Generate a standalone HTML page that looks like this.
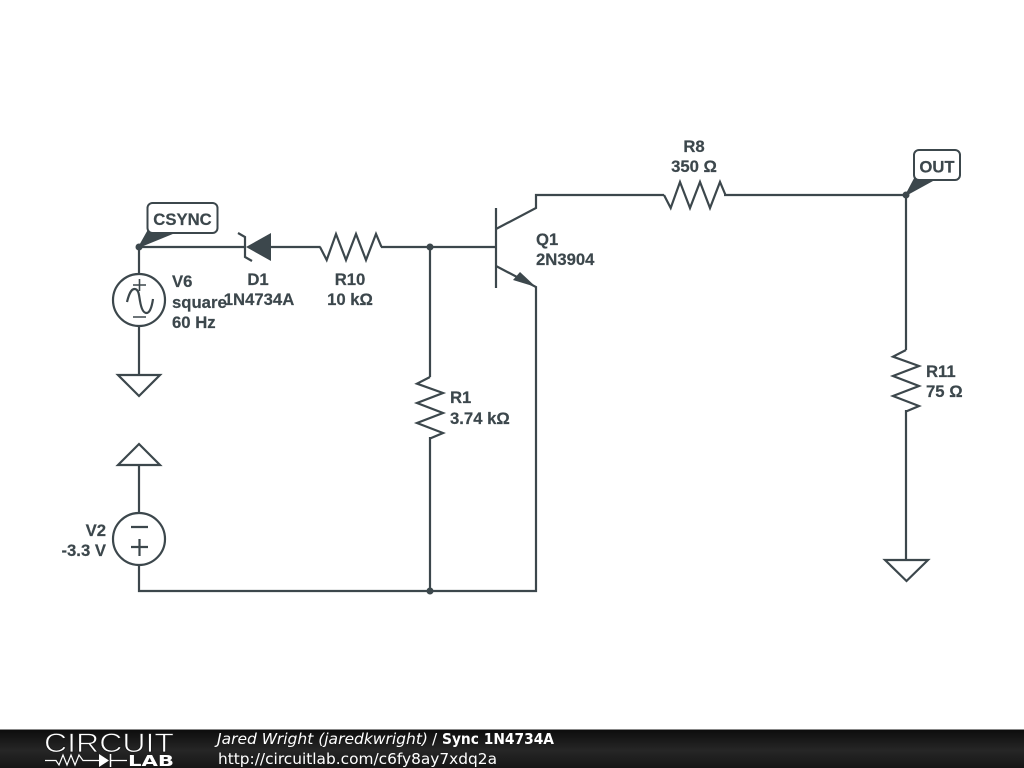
<!DOCTYPE html>
<html><head><meta charset="utf-8"><style>
html,body{margin:0;padding:0;background:#fff;width:1024px;height:768px;overflow:hidden}
svg{display:block}
.w{fill:none;stroke:#3c474c;stroke-width:2.2;stroke-linejoin:miter}
.l{font:bold 16.7px "Liberation Sans",sans-serif;fill:#3c474c;stroke:#3c474c;stroke-width:.2}
.f{font:15.2px "DejaVu Sans",sans-serif;fill:#fff}
</style></head><body>
<svg width="1024" height="768" viewBox="0 0 1024 768" xmlns="http://www.w3.org/2000/svg">
<defs>
<linearGradient id="g" x1="0" y1="0" x2="0" y2="1"><stop offset="0" stop-color="#0c0c0c"/><stop offset="0.55" stop-color="#262626"/><stop offset="1" stop-color="#161616"/></linearGradient>
</defs>
<rect width="1024" height="768" fill="#fff"/>
<!-- wires -->
<path class="w" d="M139 247H246M271 247H320.500M381 247H496M139 247V274M139 326V375M139 465V513M139 565V591H536V287L496 266M496 229L536 208V195H664M724 195H906V350M906 410V560M430 247V377M430 437V591"/>
<!-- resistors -->
<path class="w" d="M320 247L326.700 260L336 234L346 260L356 234L366 260L376 234L381.500 247"/>
<path class="w" d="M664 195L670.700 208L680 182L690 208L700 182L710 208L720 182L725.500 195"/>
<path class="w" d="M430 377L417 383.700L443 393L417 403L443 413L417 423L443 433L430 438.500"/>
<path class="w" d="M906 350L893 356.700L919 366L893 376L919 386L893 396L919 406L906 411.500"/>
<!-- sources -->
<circle class="w" cx="139" cy="300" r="26"/>
<path class="w" style="stroke-width:1.6" d="M133 285H146M139.500 279V291M133 317H146"/>
<path class="w" d="M127 302C129 294 131 289 134.500 289C139 289 139 296 140 301C141 307 143 313 146.500 313C150 313 152 306 153 299"/>
<circle class="w" cx="139" cy="539" r="26"/>
<path class="w" d="M131 527H148M131 547H148M139.500 539V556"/>
<!-- grounds -->
<path class="w" d="M118 375H160L139 396Z"/>
<path class="w" d="M118 465H160L139 444Z"/>
<path class="w" d="M885 560H928L906.500 581Z"/>
<!-- diode -->
<path d="M246 247L271 233V261Z" fill="#3c474c"/>
<path class="w" d="M238 233L245 237V257L252 261"/>
<!-- transistor -->
<path class="w" d="M496 208V288"/>
<path d="M536 287L513 280L520 272Z" fill="#3c474c"/>
<!-- dots -->
<circle cx="139" cy="247" r="3.500" fill="#3c474c"/>
<circle cx="430" cy="247" r="3.500" fill="#3c474c"/>
<circle cx="430" cy="591" r="3.500" fill="#3c474c"/>
<circle cx="906" cy="195" r="3.500" fill="#3c474c"/>
<!-- tags -->
<path d="M139 247L148 231H178Z" fill="#3c474c" stroke="#3c474c" stroke-width="1.500"/>
<rect x="147.500" y="203" width="70" height="30" rx="5" fill="#fff" stroke="#3c474c" stroke-width="2"/>
<text class="l" x="182.500" y="225" text-anchor="middle">CSYNC</text>
<path d="M906 195L915 178H937Z" fill="#3c474c" stroke="#3c474c" stroke-width="1.500"/>
<rect x="914" y="150" width="46" height="30" rx="5" fill="#fff" stroke="#3c474c" stroke-width="2"/>
<text class="l" x="937" y="172.500" text-anchor="middle">OUT</text>
<!-- labels -->
<text class="l" x="172" y="287">V6</text>
<text class="l" x="172" y="308">square</text>
<text class="l" x="172" y="328">60 Hz</text>
<text class="l" x="258" y="285" text-anchor="middle">D1</text>
<text class="l" x="259" y="305" text-anchor="middle">1N4734A</text>
<text class="l" x="350" y="285" text-anchor="middle">R10</text>
<text class="l" x="350" y="305" text-anchor="middle">10 kΩ</text>
<text class="l" x="694" y="152" text-anchor="middle">R8</text>
<text class="l" x="694" y="172" text-anchor="middle">350 Ω</text>
<text class="l" x="536" y="245">Q1</text>
<text class="l" x="536" y="265">2N3904</text>
<text class="l" x="450" y="403">R1</text>
<text class="l" x="450" y="424">3.74 kΩ</text>
<text class="l" x="926" y="377">R11</text>
<text class="l" x="926" y="397">75 Ω</text>
<text class="l" x="106" y="536" text-anchor="end">V2</text>
<text class="l" x="106" y="556" text-anchor="end">-3.3 V</text>
<!-- footer -->
<rect x="0" y="729" width="1024" height="39" fill="url(#g)"/>
<rect x="0" y="729" width="1024" height="1" fill="#888"/>
<text x="44" y="752" font-family="Liberation Sans,sans-serif" font-size="26.500" fill="#fff" stroke="#1a1a1a" stroke-width="0.8" textLength="130" lengthAdjust="spacingAndGlyphs">CIRCUIT</text>
<path d="M45 760.500H56L59 765L63 755L67 765L71 755L75 765L79 755L83 760.500H99M110 760.500H127" fill="none" stroke="#fff" stroke-width="1.200"/>
<path d="M99 754L109 760.500L99 767Z" fill="#fff"/>
<path d="M110.500 754V767" stroke="#fff" stroke-width="1.500"/>
<text x="128" y="766" font-family="DejaVu Sans,sans-serif" font-weight="bold" font-size="15" fill="#fff" textLength="46" lengthAdjust="spacingAndGlyphs">LAB</text>
<text class="f" x="217" y="744" textLength="211" lengthAdjust="spacingAndGlyphs" style="font-style:italic">Jared Wright (jaredkwright)</text>
<text class="f" x="432" y="744">/</text>
<text class="f" x="442" y="744" textLength="112" lengthAdjust="spacingAndGlyphs" style="font-weight:bold">Sync 1N4734A</text>
<text class="f" x="218" y="764" textLength="279" lengthAdjust="spacingAndGlyphs">http://circuitlab.com/c6fy8ay7xdq2a</text>
</svg>
</body></html>
